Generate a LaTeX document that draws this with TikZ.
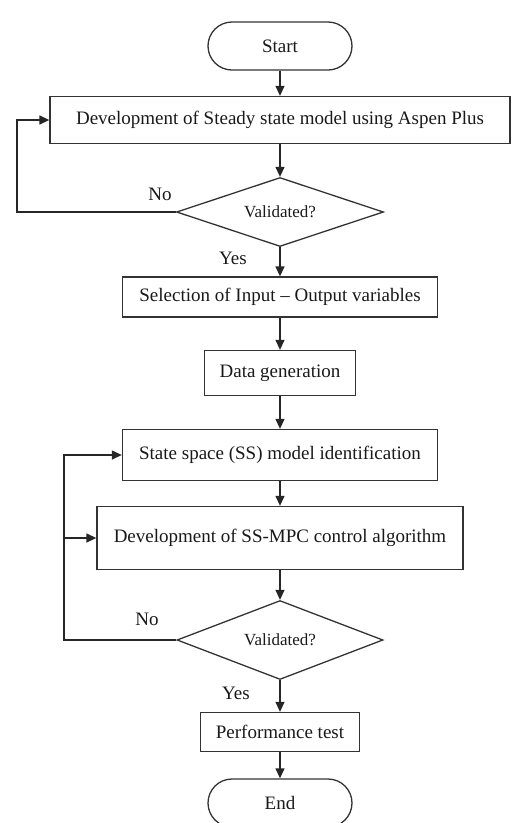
\documentclass[tikz,border=0pt]{standalone}
\usepackage{fontspec}
\setmainfont{Liberation Serif}
\usetikzlibrary{shapes.geometric,arrows.meta}
\begin{document}
\begin{tikzpicture}[x=1pt,y=-1pt,
  every node/.style={font=\fontsize{19}{22}\selectfont, text=black!90},
  box/.style={draw=black!80, line width=1.3pt, inner sep=0pt, align=center},
  term/.style={box, rounded corners=24pt, minimum width=144pt, minimum height=48pt},
  decision/.style={draw=black!80, line width=1.3pt, diamond, inner sep=0pt, font=\fontsize{17}{20}\selectfont},
  conn/.style={line width=1.3pt, draw=black!85, -{Triangle[length=10pt,width=9pt]}},
  lbl/.style={inner sep=0pt}]
\useasboundingbox (0,0) rectangle (514,823);
\node[term] (start) at (280,46) {Start};
\node[box, minimum width=460pt, minimum height=47pt] (dev) at (280,120) {Development of Steady state model using Aspen Plus};
\node[decision, aspect=3, minimum width=207pt, minimum height=69pt] (val1) at (280,212) {Validated?};
\node[box, minimum width=315pt, minimum height=40pt] (sel) at (280,297) {Selection of Input -- Output variables};
\node[box, minimum width=151pt, minimum height=45pt] (data) at (280,373) {Data generation};
\node[box, minimum width=315pt, minimum height=51pt] (ss) at (280,455) {State space (SS) model identification};
\node[box, minimum width=366pt, minimum height=63pt] (mpc) at (280,538) {Development of SS-MPC control algorithm};
\node[decision, aspect=2.6, minimum width=206pt, minimum height=79pt] (val2) at (280,640) {Validated?};
\node[box, minimum width=159pt, minimum height=39pt] (perf) at (280,732) {Performance test};
\node[term] (end) at (280,803) {End};
\coordinate (l1a) at (17,212);
\coordinate (l1b) at (17,120);
\coordinate (l2a) at (64,640);
\coordinate (l2b) at (64,455);
\coordinate (l2c) at (64,538);
\node[lbl] (no1) at (160,194) {No};
\node[lbl] (yes1) at (233,258) {Yes};
\node[lbl] (no2) at (147,619) {No};
\node[lbl] (yes2) at (236,693) {Yes};
\draw[conn] (start) -- (dev);
\draw[conn] (dev) -- (val1);
\draw[conn] (val1) -- (sel);
\draw[conn] (sel) -- (data);
\draw[conn] (data) -- (ss);
\draw[conn] (ss) -- (mpc);
\draw[conn] (mpc) -- (val2);
\draw[conn] (val2) -- (perf);
\draw[conn] (perf) -- (end);
\draw[conn] (val1.west) -- (l1a) -- (l1b) -- (dev.west);
\draw[conn] (val2.west) -- (l2a) -- (l2b) -- (ss.west);
\draw[conn] (l2c) -- (mpc.west);
\end{tikzpicture}
\end{document}
